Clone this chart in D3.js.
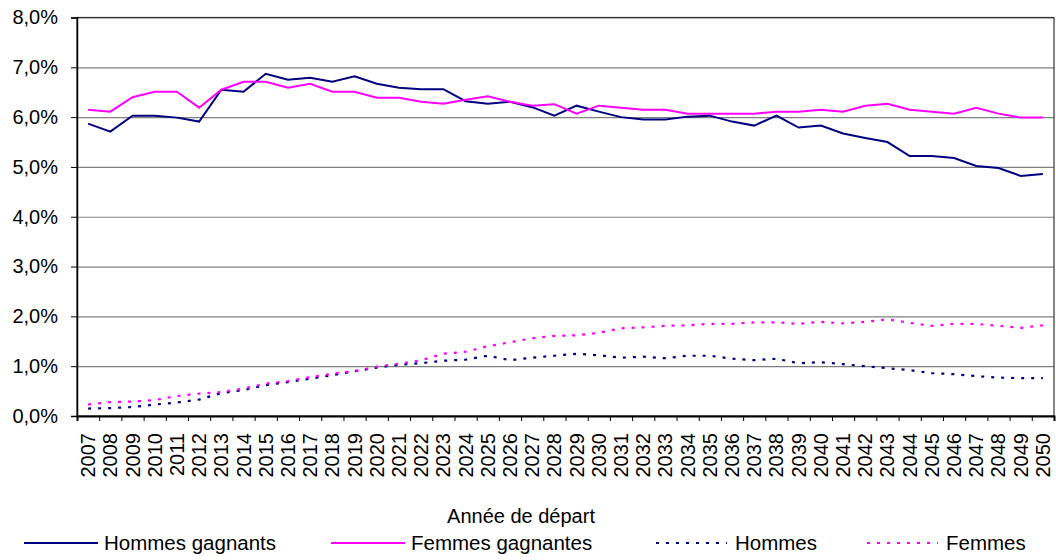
<!DOCTYPE html>
<html>
<head>
<meta charset="utf-8">
<script src="https://cdn.jsdelivr.net/npm/d3@7"></script>
<style>
  body { margin: 0; background: #fff; }
  text { font-family: "Liberation Sans", Arial, sans-serif; fill: #000; }
</style>
</head>
<body>
<div id="chart"></div>
<script>
// years on the x axis
let annees = d3.range(2007, 2051).map(String);

// values in %
let hommesGagnants = [5.87, 5.71, 6.03, 6.03, 5.99, 5.91, 6.55, 6.51, 6.87, 6.75, 6.79, 6.71, 6.82,
    6.67, 6.59, 6.56, 6.56, 6.32, 6.27, 6.31, 6.20, 6.03, 6.23, 6.11, 6.00, 5.95, 5.95, 6.01,
    6.03, 5.91, 5.83, 6.03, 5.79, 5.83, 5.67, 5.58, 5.50, 5.22, 5.22, 5.18, 5.02, 4.98, 4.82, 4.86];
let femmesGagnantes = [6.15, 6.11, 6.40, 6.51, 6.51, 6.19, 6.55, 6.71, 6.71, 6.59, 6.67, 6.51, 6.51,
    6.39, 6.39, 6.31, 6.27, 6.35, 6.42, 6.31, 6.23, 6.26, 6.07, 6.23, 6.19, 6.15, 6.15, 6.07,
    6.07, 6.07, 6.07, 6.11, 6.11, 6.15, 6.11, 6.23, 6.27, 6.15, 6.11, 6.07, 6.19, 6.07, 5.99, 5.99];
let hommes = [0.15, 0.16, 0.18, 0.23, 0.27, 0.33, 0.46, 0.52, 0.62, 0.68, 0.75, 0.82, 0.90,
    0.97, 1.03, 1.06, 1.11, 1.13, 1.21, 1.12, 1.17, 1.21, 1.25, 1.22, 1.17, 1.19, 1.16, 1.21,
    1.21, 1.15, 1.12, 1.15, 1.06, 1.08, 1.04, 1.00, 0.96, 0.92, 0.86, 0.84, 0.80, 0.77, 0.76, 0.76];
let femmes = [0.23, 0.28, 0.29, 0.32, 0.40, 0.45, 0.48, 0.55, 0.65, 0.70, 0.78, 0.85, 0.90,
    0.99, 1.05, 1.12, 1.25, 1.29, 1.40, 1.48, 1.56, 1.61, 1.62, 1.67, 1.76, 1.78, 1.81, 1.82,
    1.85, 1.85, 1.88, 1.88, 1.85, 1.89, 1.86, 1.89, 1.94, 1.87, 1.81, 1.85, 1.85, 1.81, 1.77, 1.82];

let yTicks = [0, 1, 2, 3, 4, 5, 6, 7, 8];
let xTitre = "Année de départ";

let series = [
    { name: "Hommes gagnants", values: hommesGagnants, color: "#000080", dash: null },
    { name: "Femmes gagnantes", values: femmesGagnantes, color: "#ff00ff", dash: null },
    { name: "Hommes", values: hommes, color: "#000080", dash: "3,7" },
    { name: "Femmes", values: femmes, color: "#ff00ff", dash: "3,7" }
];

let margin = { top: 17.5, right: 2, bottom: 144, left: 77 };
let width = 1056 - margin.left - margin.right;
let height = 560 - margin.top - margin.bottom;

let svg = d3.select('#chart')
    .append('svg')
    .attr('width', 1056)
    .attr('height', 560)
    .append('g')
    .attr('transform', 'translate(' + margin.left + ',' + margin.top + ')');

let x = d3.scaleBand().domain(annees).range([0, width]).padding(0);
let xEdge = d3.scaleLinear().domain([0, annees.length]).range([0, width]);
let y = d3.scaleLinear().domain([0, 8]).range([height, 0]);
let fmt = function (d) { return d.toFixed(1).replace('.', ',') + '%'; };

// gridlines
svg.append('g')
    .call(d3.axisLeft(y).tickValues(yTicks).tickSize(-width).tickFormat(''))
    .call(g => g.select('.domain').remove())
    .selectAll('line')
    .attr('stroke', '#808080')
    .attr('stroke-width', 1.2);

// plot border
svg.append('rect')
    .attr('width', width).attr('height', height)
    .attr('fill', 'none').attr('stroke', '#333').attr('stroke-width', 1.2);

// y axis
let yAxis = svg.append('g')
    .call(d3.axisLeft(y).tickValues(yTicks).tickSize(6).tickPadding(13).tickFormat(fmt));
yAxis.select('.domain').attr('stroke', '#000').attr('stroke-width', 1.5);
yAxis.selectAll('line').attr('stroke', '#000');
yAxis.selectAll('text').style('font-size', '20px').attr('font-family', '"Liberation Sans", Arial, sans-serif');

// x axis ticks between categories
let xTicks = svg.append('g')
    .attr('transform', 'translate(0,' + height + ')')
    .call(d3.axisBottom(xEdge).tickValues(d3.range(annees.length + 1)).tickSize(5).tickFormat(''));
xTicks.select('.domain').attr('stroke', '#000').attr('stroke-width', 2);
xTicks.selectAll('line').attr('stroke', '#000');

// x labels
let xLabels = svg.append('g')
    .attr('transform', 'translate(0,' + height + ')')
    .call(d3.axisBottom(x).tickSize(0).tickPadding(0));
xLabels.select('.domain').remove();
xLabels.selectAll('text')
    .attr('transform', 'rotate(-90)')
    .attr('x', -17)
    .attr('y', 0)
    .attr('dy', '0.35em')
    .style('text-anchor', 'end')
    .style('font-size', '20px')
    .attr('font-family', '"Liberation Sans", Arial, sans-serif');

// lines
let line = d3.line()
    .x(function (d, i) { return x(annees[i]) + x.bandwidth() / 2; })
    .y(function (d) { return y(d); });

svg.selectAll('.serie')
    .data(series)
    .enter()
    .append('path')
    .attr('class', 'serie')
    .attr('d', function (d) { return line(d.values); })
    .attr('fill', 'none')
    .attr('stroke', function (d) { return d.color; })
    .attr('stroke-width', function (d) { return d.dash ? 2.2 : 2; })
    .attr('stroke-dasharray', function (d) { return d.dash; });

// x title
d3.select('svg').append('text')
    .attr('x', 521)
    .attr('y', 523)
    .attr('text-anchor', 'middle')
    .style('font-size', '20px')
    .text(xTitre);

// legend
let legendX = [24, 331, 656, 867];
let legend = d3.select('svg').selectAll('.leg')
    .data(series)
    .enter()
    .append('g')
    .attr('class', 'leg')
    .attr('transform', function (d, i) { return 'translate(' + legendX[i] + ',543)'; });
legend.append('line')
    .attr('x1', 0).attr('x2', function (d) { return d.dash ? 71 : 74; })
    .attr('stroke', function (d) { return d.color; })
    .attr('stroke-width', 2)
    .attr('stroke-dasharray', function (d) { return d.dash; });
legend.append('text')
    .attr('x', function (d) { return d.dash ? 79 : 80; })
    .attr('y', 0)
    .attr('dy', '0.35em')
    .style('font-size', '20.5px')
    .text(function (d) { return d.name; });
</script>
</body>
</html>
